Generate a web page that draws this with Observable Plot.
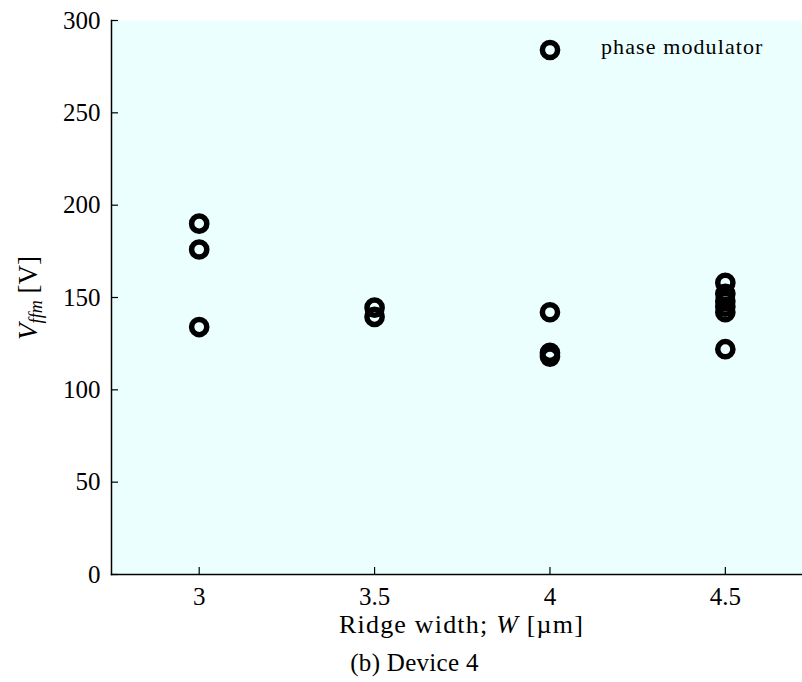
<!DOCTYPE html>
<html>
<head>
<meta charset="utf-8">
<script src="https://cdn.jsdelivr.net/npm/d3@7"></script>
<script src="https://cdn.jsdelivr.net/npm/@observablehq/plot@0.6"></script>
<style>
  body { margin: 0; background: #fff; }
  #chart { position: relative; width: 802px; height: 682px; }
</style>
</head>
<body>
<div id="chart"></div>
<script>
// Ridge widths (µm) and measured V_ffm (V) for each width
const ridgeWidths = [3, 3.5, 4, 4.5];
const vffmW30 = [190, 176, 134];
const vffmW35 = [144.5, 139.5];
const vffmW40 = [142, 120, 118];
const vffmW45 = [158, 152, 148, 145, 142, 122];

const xTicks = [3, 3.5, 4, 4.5];
const yTicks = [0, 50, 100, 150, 200, 250, 300];

const legendLabel = "phase modulator";
const xLabel = ["Ridge width; ", "W", " [µm]"];
const caption = "(b) Device 4";

const groups = [vffmW30, vffmW35, vffmW40, vffmW45];
const points = ridgeWidths.flatMap((w, i) => groups[i].map(v => ({w, v})));

const font = "'Liberation Serif', 'Times New Roman', serif";
const bg = "#ebffff";

const W = 802, H = 682;
const mTop = 20, mBottom = 108, mLeft = 111, mRight = 0;
const innerW = W - mLeft - mRight, innerH = H - mTop - mBottom;
const tickLen = 7;

const svg = Plot.plot({
  width: W,
  height: H,
  marginTop: mTop,
  marginBottom: mBottom,
  marginLeft: mLeft,
  marginRight: mRight,
  style: {fontFamily: font, fontSize: "25px", background: "white", color: "black", overflow: "visible"},
  x: {domain: [2.75, 4.72]},
  y: {domain: [0, 300]},
  marks: [
    Plot.frame({fill: bg, stroke: "none"}),
    // inward-pointing tick marks
    Plot.tickY(yTicks, {y: d => d, insetRight: innerW - tickLen, strokeWidth: 1.2}),
    Plot.tickX(xTicks, {x: d => d, insetTop: innerH - tickLen, strokeWidth: 1.2}),
    Plot.axisY(yTicks, {tickSize: 0, tickPadding: 11, label: null}),
    Plot.axisX(xTicks, {tickSize: 0, tickPadding: 13, label: null, tickFormat: d => String(d)}),
    Plot.frame({anchor: "left", strokeWidth: 1.5}),
    Plot.frame({anchor: "bottom", strokeWidth: 1.5}),
    Plot.dot(points, {x: "w", y: "v", r: 7.6, stroke: "black", strokeWidth: 5.5, fill: "none"})
  ]
});

document.getElementById("chart").appendChild(svg);

// Labels, legend and caption placed relative to the plot frame
const xs = svg.scale("x"), ys = svg.scale("y");
const frameLeft = xs.range[0], frameRight = xs.range[1];
const frameTop = ys.range[1], frameBottom = ys.range[0];
const s = d3.select(svg);

// x-axis title
const xt = s.append("text")
  .attr("x", (frameLeft + frameRight) / 2 + 5)
  .attr("y", frameBottom + 59)
  .attr("text-anchor", "middle")
  .attr("font-family", font)
  .attr("font-size", 26)
  .attr("letter-spacing", 1.2)
  .attr("fill", "black");
xt.append("tspan").text(xLabel[0]);
xt.append("tspan").attr("font-style", "italic").text(xLabel[1]);
xt.append("tspan").text(xLabel[2]);

// y-axis title: V_ffm [V]
const yt = s.append("text")
  .attr("transform", `translate(37,${(frameTop + frameBottom) / 2 + 1}) rotate(-90)`)
  .attr("text-anchor", "middle")
  .attr("font-family", font)
  .attr("font-size", 27)
  .attr("fill", "black");
yt.append("tspan").attr("font-style", "italic").text("V");
yt.append("tspan").attr("font-style", "italic").attr("font-size", 18).attr("dy", 5).text("ffm");
yt.append("tspan").attr("dy", -5).text(" [V]");

// legend
const lg = s.append("g");
lg.append("circle")
  .attr("cx", frameRight - 252).attr("cy", frameTop + 30)
  .attr("r", 7.6).attr("fill", "none").attr("stroke", "black").attr("stroke-width", 5.5);
lg.append("text")
  .attr("x", frameRight - 201).attr("y", frameTop + 34)
  .attr("text-anchor", "start")
  .attr("font-family", font).attr("font-size", 22)
  .attr("letter-spacing", 1.1)
  .attr("fill", "black")
  .text(legendLabel);

// caption
s.append("text")
  .attr("x", (frameLeft + frameRight) / 2 - 42)
  .attr("y", frameBottom + 97)
  .attr("text-anchor", "middle")
  .attr("font-family", font)
  .attr("font-size", 25)
  .attr("letter-spacing", 0.3)
  .attr("fill", "black")
  .text(caption);
</script>
</body>
</html>
